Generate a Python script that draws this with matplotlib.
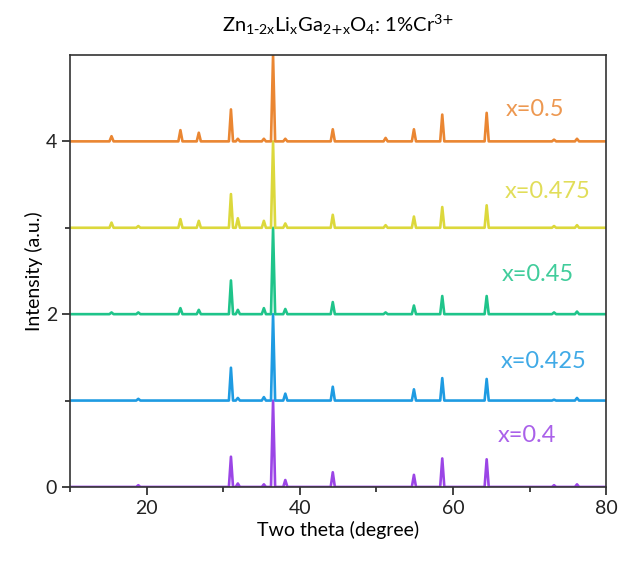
import numpy as np
import matplotlib.pyplot as plt

plt.rcParams['font.family'] = ['Lato', 'DejaVu Sans']
plt.rcParams['mathtext.default'] = 'regular'

# sample compositions, colours and vertical offsets
labels = ['x=0.4', 'x=0.425', 'x=0.45', 'x=0.475', 'x=0.5']
colors = ['#9b45e6', '#1e9be2', '#1fc48a', '#dcd83c', '#ea8632']
offsets = [0, 1, 2, 3, 4]

# peak positions (2theta, degree)
peaks = [15.4, 18.9, 24.4, 26.8, 31.0, 31.9, 35.3, 36.5, 38.1,
         44.3, 51.2, 54.9, 58.6, 64.4, 73.2, 76.2]

# normalized peak heights, one list per sample (same order as peaks)
h_04 = [0.0, 0.02, 0.0, 0.0, 0.35, 0.04, 0.03, 1.0, 0.08,
        0.17, 0.0, 0.14, 0.33, 0.32, 0.02, 0.03]
h_0425 = [0.0, 0.02, 0.0, 0.0, 0.38, 0.03, 0.04, 1.0, 0.08,
          0.16, 0.0, 0.13, 0.26, 0.25, 0.01, 0.03]
h_045 = [0.02, 0.02, 0.07, 0.05, 0.39, 0.05, 0.07, 1.0, 0.06,
         0.14, 0.02, 0.10, 0.21, 0.21, 0.02, 0.03]
h_0475 = [0.06, 0.02, 0.10, 0.08, 0.39, 0.11, 0.08, 1.0, 0.05,
          0.15, 0.03, 0.13, 0.24, 0.26, 0.02, 0.03]
h_05 = [0.06, 0.0, 0.13, 0.10, 0.37, 0.03, 0.03, 1.0, 0.03,
        0.14, 0.04, 0.14, 0.31, 0.33, 0.02, 0.03]
heights = [h_04, h_0425, h_045, h_0475, h_05]

label_x = [69.7, 71.8, 71.1, 72.4, 70.7]
label_y = [0.60, 1.45, 2.46, 3.42, 4.37]

fig = plt.figure(figsize=(6.21, 5.61), dpi=100)
ax = fig.add_axes([0.113, 0.132, 0.863, 0.770])

hw = 0.27
for lab, col, off, hs, lx, ly in zip(labels, colors, offsets, heights,
                                     label_x, label_y):
    xs = [10.0]
    ys = [off]
    for p, h in zip(peaks, hs):
        xs += [p - hw, p, p + hw]
        ys += [off, off + h, off]
    xs.append(80.0)
    ys.append(off)
    ax.plot(xs, ys, color=col, lw=1.9)
    ax.text(lx, ly, lab, color=col, fontsize=17, ha='center', va='center',
            alpha=0.85)

ax.set_xlim(10, 80)
ax.set_ylim(0, 5)
ax.set_xticks([20, 40, 60, 80])
ax.set_xticks([10, 30, 50, 70], minor=True)
ax.set_yticks([0, 2, 4])
ax.set_yticks([1, 3], minor=True)
ax.tick_params(axis='both', which='major', length=6, width=1.2,
               labelsize=14, colors='#222222')
ax.tick_params(axis='both', which='minor', length=3.5, width=1.2,
               colors='#222222')
for s in ax.spines.values():
    s.set_linewidth(1.2)
    s.set_color('#333333')

ax.set_xlabel('Two theta (degree)', fontsize=14, labelpad=3)
ax.set_ylabel('Intensity (a.u.)', fontsize=14, labelpad=2)
ax.set_title(r'Zn$_{1\text{-}2x}$Li$_x$Ga$_{2\text{+}x}$O$_4$: '
             r'1%Cr$^{3\text{+}}$', fontsize=14.5, pad=17)

fig.savefig('out.png', dpi=100)
